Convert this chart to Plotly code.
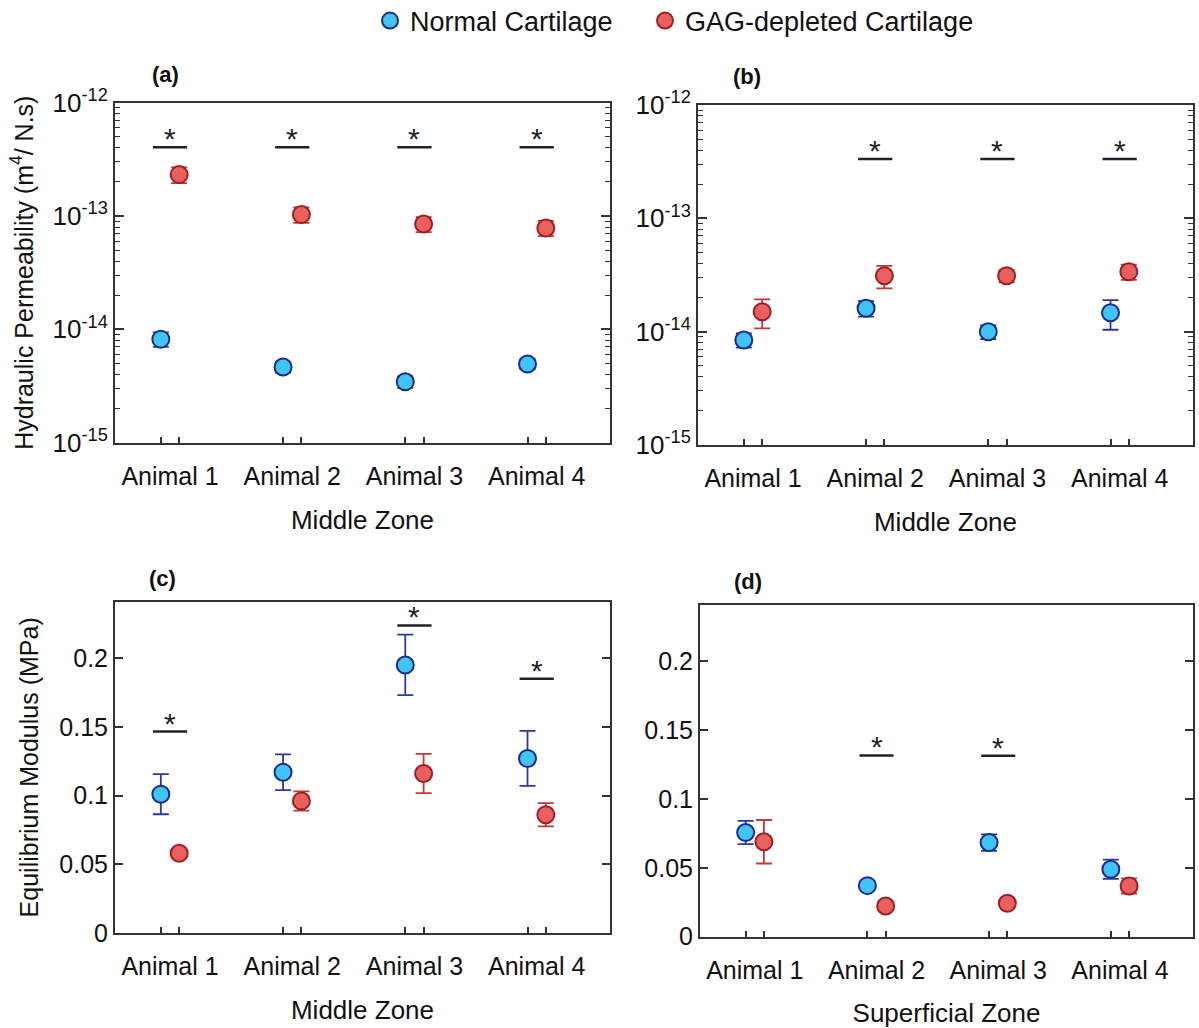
import math
import plotly.graph_objects as go

# ---------------- data ----------------
animals = ["Animal 1", "Animal 2", "Animal 3", "Animal 4"]
series_names = ["Normal Cartilage", "GAG-depleted Cartilage"]

# (a) Hydraulic permeability, middle zone (m^4/N.s)
normal_a = [8.2e-15, 4.65e-15, 3.45e-15, 4.95e-15]
normal_a_err = [1.2e-15, 0.5e-15, 0.4e-15, 0.5e-15]
gag_a = [2.32e-13, 1.03e-13, 8.5e-14, 7.85e-14]
gag_a_err = [0.37e-13, 0.16e-13, 0.13e-13, 0.12e-13]
sig_a = {"Animal 1": 4.04e-13, "Animal 2": 4.04e-13, "Animal 3": 4.04e-13, "Animal 4": 4.04e-13}

# (b) Hydraulic permeability, middle zone
normal_b = [8.43e-15, 1.61e-14, 9.98e-15, 1.47e-14]
normal_b_err = [1.2e-15, 0.25e-14, 0.14e-14, 0.43e-14]
gag_b = [1.50e-14, 3.11e-14, 3.11e-14, 3.38e-14]
gag_b_err = [0.43e-14, 0.70e-14, 0.38e-14, 0.52e-14]
sig_b = {"Animal 2": 3.34e-13, "Animal 3": 3.34e-13, "Animal 4": 3.34e-13}

# (c) Equilibrium modulus, middle zone (MPa)
normal_c = [0.101, 0.117, 0.195, 0.127]
normal_c_err = [0.0146, 0.013, 0.022, 0.020]
gag_c = [0.058, 0.096, 0.116, 0.086]
gag_c_err = [0.003, 0.007, 0.0143, 0.0085]
sig_c = {"Animal 1": 0.1465, "Animal 3": 0.2237, "Animal 4": 0.1849}

# (d) Equilibrium modulus, superficial zone (MPa)
normal_d = [0.0757, 0.0371, 0.0684, 0.049]
normal_d_err = [0.0084, 0.003, 0.006, 0.007]
gag_d = [0.069, 0.0223, 0.0243, 0.0369]
gag_d_err = [0.0158, 0.002, 0.002, 0.0055]
sig_d = {"Animal 2": 0.1317, "Animal 3": 0.1315}

log_decades = [-15, -14, -13, -12]
log_ticktext = ["10<sup>-15</sup>", "10<sup>-14</sup>", "10<sup>-13</sup>", "10<sup>-12</sup>"]
lin_tickvals = [0, 0.05, 0.1, 0.15, 0.2]
lin_ticktext = ["0", "0.05", "0.1", "0.15", "0.2"]

# ---------------- styling ----------------
FONT = "Liberation Sans, Arial, sans-serif"
BLUE_FILL, BLUE_EDGE, BLUE_ERR = "#40C4F2", "#1C2A8C", "#2B3A99"
RED_FILL, RED_EDGE, RED_ERR = "#E8615E", "#9E1F22", "#C0383A"
AXC = "#333333"
OFF = 0.075
HALF = 0.14
xpos = {a: i + 1 for i, a in enumerate(animals)}
log_tickvals = [10.0 ** e for e in log_decades]
log_minor = [m * 10.0 ** e for e in log_decades[:-1] for m in range(2, 10)]

W, H = 1199, 1028
def px_x(p):
    return p / W
def px_y(p):
    return 1 - p / H

domains = {
    "a": dict(x=[px_x(115), px_x(610)], y=[px_y(442.7), px_y(102.7)]),
    "b": dict(x=[px_x(698), px_x(1193)], y=[px_y(445), px_y(105)]),
    "c": dict(x=[px_x(115), px_x(610)], y=[px_y(933), px_y(601.7)]),
    "d": dict(x=[px_x(700), px_x(1193)], y=[px_y(936.7), px_y(605)]),
}

panels = [
    ("a", "", normal_a, normal_a_err, gag_a, gag_a_err, sig_a, True, "Middle Zone"),
    ("b", "2", normal_b, normal_b_err, gag_b, gag_b_err, sig_b, True, "Middle Zone"),
    ("c", "3", normal_c, normal_c_err, gag_c, gag_c_err, sig_c, False, "Middle Zone"),
    ("d", "4", normal_d, normal_d_err, gag_d, gag_d_err, sig_d, False, "Superficial Zone"),
]

fig = go.Figure()
shapes = []
annotations = []
layout = {}

for key, sfx, nv, ne, gv, ge, sig, is_log, xtitle in panels:
    xa = "x" + sfx
    ya = "y" + sfx
    xb = [xpos[a] - OFF for a in animals]
    xr = [xpos[a] + OFF for a in animals]
    first = key == "a"
    fig.add_trace(go.Scatter(
        x=xb, y=nv, mode="markers", name=series_names[0], legendgroup="n", legend="legend",
        showlegend=first, xaxis=xa, yaxis=ya,
        marker=dict(size=17, color=BLUE_FILL, line=dict(color=BLUE_EDGE, width=2)),
        error_y=dict(type="data", array=ne, visible=True, color=BLUE_ERR, thickness=1.8, width=8),
    ))
    fig.add_trace(go.Scatter(
        x=xr, y=gv, mode="markers", name=series_names[1], legendgroup="g", legend="legend2",
        showlegend=first, xaxis=xa, yaxis=ya,
        marker=dict(size=17, color=RED_FILL, line=dict(color=RED_EDGE, width=2)),
        error_y=dict(type="data", array=ge, visible=True, color=RED_ERR, thickness=1.8, width=8),
    ))

    minor_x = sorted(xb + xr)
    layout["xaxis" + sfx] = dict(
        domain=domains[key]["x"], anchor=ya, range=[0.55, 4.6], automargin=False,
        tickmode="array", tickvals=[xpos[a] for a in animals], ticktext=animals,
        ticks="", ticklabelstandoff=10,
        showline=True, linecolor=AXC, linewidth=2, mirror=True,
        showgrid=False, zeroline=False,
        tickfont=dict(family=FONT, size=25, color="#111"),
        minor=dict(tickmode="array", tickvals=minor_x, ticks="inside", ticklen=6,
                   tickcolor=AXC, tickwidth=1.5, showgrid=False),
        title=dict(text=xtitle, font=dict(family=FONT, size=26, color="#111"), standoff=22),
    )
    if is_log:
        layout["yaxis" + sfx] = dict(
            domain=domains[key]["y"], anchor=xa, type="log", range=[-15, -12], automargin=False,
            tickmode="array", tickvals=log_tickvals, ticktext=log_ticktext,
            ticks="inside", ticklen=9, tickwidth=1.5, tickcolor=AXC,
            showline=True, linecolor=AXC, linewidth=2, mirror="ticks",
            showgrid=False, zeroline=False,
            tickfont=dict(family=FONT, size=26, color="#111"),
            minor=dict(tickmode="array", tickvals=log_minor, ticks="inside", ticklen=5,
                       tickcolor=AXC, tickwidth=1.3, showgrid=False),
        )
    else:
        layout["yaxis" + sfx] = dict(
            domain=domains[key]["y"], anchor=xa, range=[0, 0.241], automargin=False,
            tickmode="array", tickvals=lin_tickvals, ticktext=lin_ticktext,
            ticks="inside", ticklen=8, tickwidth=1.5, tickcolor=AXC,
            showline=True, linecolor=AXC, linewidth=2, mirror="ticks",
            showgrid=False, zeroline=False,
            tickfont=dict(family=FONT, size=25, color="#111"),
        )
    # significance bars
    for animal, level in sig.items():
        cx = xpos[animal]
        shapes.append(dict(type="line", xref=xa, yref=ya, x0=cx - HALF, x1=cx + HALF,
                           y0=level, y1=level, line=dict(color="#222", width=2.5)))
        annotations.append(dict(xref=xa, yref=ya, x=cx, y=(math.log10(level) if is_log else level),
                                text="*", showarrow=False, yanchor="bottom", yshift=-10,
                                font=dict(family=FONT, size=30, color="#222")))

layout["yaxis"]["title"] = dict(text="Hydraulic Permeability (m<sup>4</sup>/ N.s)",
                                font=dict(family=FONT, size=25, color="#111"), standoff=12)
layout["yaxis3"]["title"] = dict(text="Equilibrium Modulus (MPa)",
                                 font=dict(family=FONT, size=25, color="#111"), standoff=14)

for lab, x, y in [("(a)", 165, 75), ("(b)", 747, 77), ("(c)", 162, 578), ("(d)", 748, 581)]:
    annotations.append(dict(xref="paper", yref="paper", x=px_x(x), y=px_y(y), text="<b>%s</b>" % lab,
                            showarrow=False, xanchor="center", yanchor="middle",
                            font=dict(family=FONT, size=22, color="#111")))

legend_common = dict(orientation="h", yanchor="middle", y=px_y(21),
                     font=dict(family=FONT, size=27, color="#111"), itemwidth=30,
                     bgcolor="rgba(0,0,0,0)")

fig.update_layout(
    width=W, height=H, margin=dict(l=0, r=0, t=0, b=0, autoexpand=False),
    paper_bgcolor="white", plot_bgcolor="white",
    shapes=shapes, annotations=annotations,
    legend=dict(x=px_x(370), xanchor="left", **legend_common),
    legend2=dict(x=px_x(645), xanchor="left", **legend_common),
    **layout,
)

# remove the default 8px page margin so the figure fills the window exactly
fig.write_html("out.html", config={"displayModeBar": False},
               post_script="document.body.style.margin='0';")
